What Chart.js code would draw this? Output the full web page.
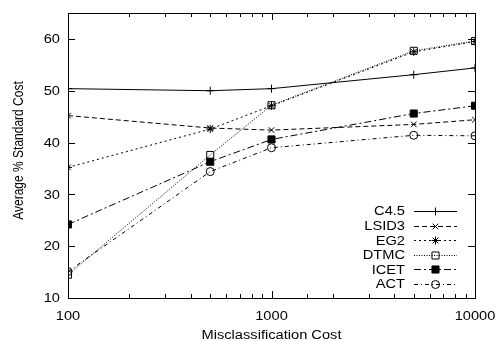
<!DOCTYPE html>
<html>
<head>
<meta charset="utf-8">
<script src="https://cdn.jsdelivr.net/npm/chart.js@4/dist/chart.umd.min.js"></script>
<style>
  html, body { margin: 0; padding: 0; background: #fff; }
  #wrap { width: 498px; height: 341px; }
</style>
</head>
<body>
<div id="wrap"><canvas id="myChart" width="498" height="341"></canvas></div>
<script>
// data
const costs = [100, 500, 1000, 5000, 10000]
const c45   = [50.4, 50.0, 50.4, 53.1, 54.4]
const lsid3 = [45.2, 42.8, 42.4, 43.5, 44.4]
const eg2   = [35.2, 42.6, 47.1, 57.5, 59.5]
const dtmc  = [14.5, 37.6, 47.2, 57.7, 59.6]
const icet  = [24.2, 36.3, 40.6, 45.6, 47.1]
const act   = [15.1, 34.4, 39.0, 41.4, 41.3]
const yTicks = [10, 20, 30, 40, 50, 60]
const xLabels = [100, 1000, 10000]
const xTitle = 'Misclassification Cost'
const yTitle = 'Average % Standard Cost'

const FONT = "12px 'Liberation Sans', Arial, sans-serif"
const STRETCH = 1.22 // the reference text is a bit wide

function makeSet(label, values, style, dash, filled) {
  return {
    label: label,
    data: costs.map((c, i) => ({x: c, y: values[i]})),
    borderColor: '#000',
    backgroundColor: filled ? '#000' : 'rgba(0,0,0,0)',
    borderWidth: 1,
    borderDash: dash,
    pointStyle: style,
    pointRadius: style === 'rect' ? 5 : 4,
    pointBorderWidth: 1,
    pointBorderColor: '#000',
    pointBackgroundColor: filled ? '#000' : 'rgba(0,0,0,0)',
    tension: 0
  }
}

// wide text, optionally rotated
function wideText(ctx, text, x, y, align, base, rot) {
  ctx.save()
  ctx.translate(x, y)
  if (rot) ctx.rotate(rot)
  if (rot) ctx.scale(1, STRETCH); else ctx.scale(STRETCH, 1)
  ctx.font = FONT
  ctx.fillStyle = '#000'
  ctx.textAlign = align
  ctx.textBaseline = base
  ctx.fillText(text, 0, 0)
  ctx.restore()
}

// frame + inward ticks like gnuplot, mirrored on top / right, plus labels
const frameTicks = {
  id: 'frameTicks',
  afterDatasetsDraw(chart) {
    const ctx = chart.ctx, a = chart.chartArea
    const xs = chart.scales.x, ys = chart.scales.y
    ctx.save()
    ctx.strokeStyle = '#000'
    ctx.lineWidth = 1
    ctx.setLineDash([])
    ctx.strokeRect(a.left + 0.5, a.top + 0.5, a.right - a.left, a.bottom - a.top)
    ctx.beginPath()
    xs.ticks.forEach(t => {
      const v = t.value
      const major = Math.abs(Math.log10(v) - Math.round(Math.log10(v))) < 1e-9
      const len = major ? 7 : 4
      const px = Math.round(xs.getPixelForValue(v)) + 0.5
      ctx.moveTo(px, a.bottom); ctx.lineTo(px, a.bottom - len)
      ctx.moveTo(px, a.top); ctx.lineTo(px, a.top + len)
    })
    yTicks.forEach(v => {
      const py = Math.round(ys.getPixelForValue(v)) + 0.5
      ctx.moveTo(a.left, py); ctx.lineTo(a.left + 7, py)
      ctx.moveTo(a.right, py); ctx.lineTo(a.right - 7, py)
    })
    ctx.stroke()
    ctx.restore()

    yTicks.forEach(v => {
      wideText(ctx, String(v), a.left - 8, ys.getPixelForValue(v) + 1, 'right', 'middle')
    })
    xLabels.forEach(v => {
      wideText(ctx, String(v), xs.getPixelForValue(v), a.bottom + 22, 'center', 'alphabetic')
    })
    wideText(ctx, xTitle, (a.left + a.right) / 2, a.bottom + 41, 'center', 'alphabetic')
    wideText(ctx, yTitle, 23, (a.top + a.bottom) / 2 - 5, 'center', 'alphabetic', -Math.PI / 2)
  }
}

// gnuplot style key: text right aligned, then line sample with marker
const keyBox = {
  id: 'keyBox',
  afterDatasetsDraw(chart) {
    const ctx = chart.ctx, a = chart.chartArea
    const textRight = a.right - 70
    const lineL = a.right - 61, lineR = a.right - 18
    let y = a.bottom - 87
    chart.data.datasets.forEach(ds => {
      wideText(ctx, ds.label, textRight, y + 1, 'right', 'middle')
      ctx.save()
      ctx.strokeStyle = '#000'
      ctx.lineWidth = 1
      ctx.setLineDash(ds.borderDash)
      ctx.beginPath()
      ctx.moveTo(lineL, Math.round(y) + 0.5)
      ctx.lineTo(lineR, Math.round(y) + 0.5)
      ctx.stroke()
      ctx.setLineDash([])
      ctx.fillStyle = ds.pointBackgroundColor
      Chart.helpers.drawPoint(ctx, {
        pointStyle: ds.pointStyle, radius: ds.pointRadius,
        borderWidth: 1, rotation: 0
      }, (lineL + lineR) / 2, Math.round(y) + 0.5)
      ctx.restore()
      y += 14.6
    })
  }
}

const ctx = document.getElementById('myChart').getContext('2d')
const myChart = new Chart(ctx, {
  type: 'line',
  data: {
    datasets: [
      makeSet('C4.5', c45, 'cross', [], false),
      makeSet('LSID3', lsid3, 'crossRot', [5, 3], false),
      makeSet('EG2', eg2, 'star', [2, 3], false),
      makeSet('DTMC', dtmc, 'rect', [1, 1.5], false),
      makeSet('ICET', icet, 'rect', [7, 3, 2, 3], true),
      makeSet('ACT', act, 'circle', [4, 3, 1, 3], false)
    ]
  },
  options: {
    responsive: false,
    animation: false,
    layout: { padding: { left: 0, right: 23, top: 13, bottom: 0 } },
    plugins: { legend: { display: false }, tooltip: { enabled: false } },
    scales: {
      x: {
        type: 'logarithmic',
        min: 100,
        max: 10000,
        grid: { display: false, drawTicks: false },
        border: { display: false },
        ticks: { display: false, autoSkip: false },
        afterFit: s => { s.height = 43 }
      },
      y: {
        min: 10,
        max: 65,
        grid: { display: false, drawTicks: false },
        border: { display: false },
        afterBuildTicks: s => { s.ticks = yTicks.map(v => ({value: v})) },
        ticks: { display: false },
        afterFit: s => { s.width = 68 }
      }
    }
  },
  plugins: [frameTicks, keyBox]
})
</script>
</body>
</html>
